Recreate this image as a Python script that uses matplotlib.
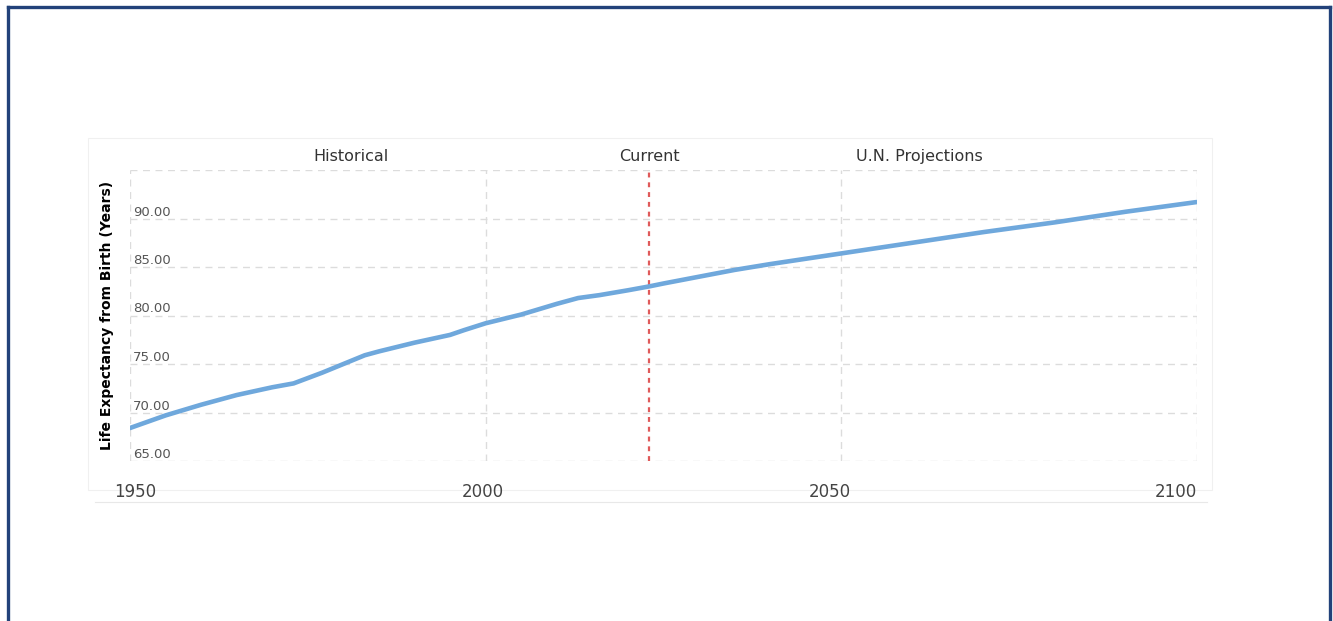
import matplotlib.pyplot as plt
import matplotlib.transforms as mtransforms
from matplotlib.patches import Rectangle
from matplotlib.lines import Line2D

# Life expectancy from birth, historical + U.N. projections
years = [1950, 1955, 1960, 1965, 1970, 1973, 1977, 1980, 1983, 1985,
         1990, 1995, 1997, 2000, 2005, 2010, 2013, 2016, 2020, 2023,
         2025, 2030, 2035, 2040, 2050, 2060, 2070, 2080, 2090, 2100]
life_exp = [68.4, 69.7, 70.8, 71.8, 72.6, 73.0, 74.1, 75.0, 75.9, 76.3,
            77.2, 78.0, 78.5, 79.2, 80.1, 81.2, 81.8, 82.1, 82.6, 83.0,
            83.3, 84.0, 84.7, 85.3, 86.4, 87.5, 88.6, 89.6, 90.7, 91.7]

current_year = 2023
y_ticks = [65, 70, 75, 80, 85, 90, 95]
x_ticks = [1950, 2000, 2050, 2100]
section_labels = ["Historical", "Current", "U.N. Projections"]
section_x = [1981, current_year, 2061]

W, H = 1333, 621
fig = plt.figure(figsize=(W / 100, H / 100), dpi=100)
fig.patch.set_facecolor("white")


def fx(px):
    return px / W


def fy(py):
    return 1 - py / H


# outer frame (left, top, right edges)
border = "#22427a"
for xs, ys in [([fx(8), fx(8)], [fy(7), 0]),
               ([fx(8), fx(1330)], [fy(7), fy(7)]),
               ([fx(1330), fx(1330)], [fy(7), 0])]:
    fig.add_artist(Line2D(xs, ys, color=border, lw=2.4, transform=fig.transFigure))

# faint panel behind the chart
fig.add_artist(Rectangle((fx(88), fy(490)), fx(1212) - fx(88), fy(138) - fy(490),
                         transform=fig.transFigure, facecolor="white",
                         edgecolor="#f0f0f0", lw=0.8, zorder=0))
fig.add_artist(Line2D([fx(95), fx(1207)], [fy(502), fy(502)], color="#e8e8e8",
                      lw=0.8, transform=fig.transFigure))

ax = fig.add_axes([fx(130), fy(461), fx(1197) - fx(130), fy(170) - fy(461)])
ax.set_facecolor("none")

ax.plot(years, life_exp, color="#6fa8dc", lw=3.3, solid_capstyle="round", zorder=3)
ax.axvline(current_year, color="#e05a5a", lw=1.6, ls=(0, (2.2, 2.2)), zorder=2)

ax.set_xlim(1950, 2100)
ax.set_ylim(65, 95)
ax.set_xticks(x_ticks)
ax.set_yticks(y_ticks)
ax.grid(True, color="#dcdcdc", ls=(0, (5, 4)), lw=1.0)
for s in ax.spines.values():
    s.set_visible(False)
ax.tick_params(length=0)

# y tick labels sit inside the plot, just above each gridline
ax.set_yticklabels([])
for v in y_ticks[:-1]:
    ax.text(0.003, v, f"{v:.2f}", transform=ax.get_yaxis_transform(),
            ha="left", va="bottom", fontsize=9.5, color="#555555")

ax.set_xticklabels([str(x) for x in x_ticks], fontsize=12, color="#444444")
ax.tick_params(axis="x", pad=16)
x_offsets = [5, -3, -12, 0]
x_align = ["center", "center", "center", "right"]
for lab, dx, ha in zip(ax.get_xticklabels(), x_offsets, x_align):
    lab.set_ha(ha)
    lab.set_transform(lab.get_transform() +
                      mtransforms.ScaledTranslation(dx / 100, 0, fig.dpi_scale_trans))

for lab, xv in zip(section_labels, section_x):
    ax.text(xv, 1.02, lab, transform=ax.get_xaxis_transform(), ha="center",
            va="bottom", fontsize=11.5, color="#333333")

fig.text(fx(107), fy(315), "Life Expectancy from Birth (Years)", rotation=90,
         ha="center", va="center", fontsize=10, fontweight="bold", color="black")

fig.savefig("out.png", dpi=100, facecolor="white")
